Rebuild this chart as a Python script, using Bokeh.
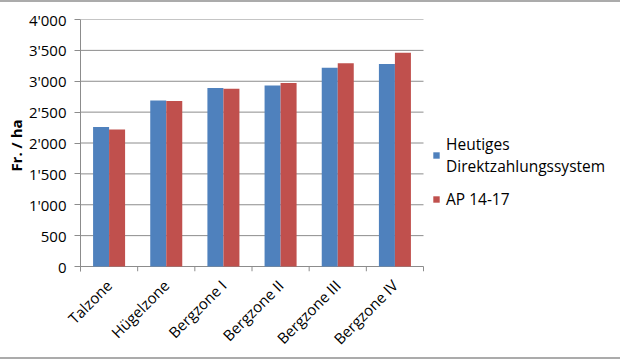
import math
from bokeh.plotting import figure
from bokeh.models import (Range1d, FixedTicker, LinearAxis, Legend, LegendItem,
                          ColumnDataSource)
from bokeh.transform import dodge
from bokeh.embed import file_html
from bokeh.resources import INLINE

categories = ["Talzone", "Hügelzone", "Bergzone I", "Bergzone II", "Bergzone III", "Bergzone IV"]
heutiges = [2260, 2690, 2890, 2930, 3220, 3280]
ap1417 = [2220, 2680, 2880, 2970, 3290, 3460]
series_names = ["Heutiges\nDirektzahlungssystem", "AP 14-17"]
series_colors = ["#4F81BD", "#C0504D"]
y_ticks = [0, 500, 1000, 1500, 2000, 2500, 3000, 3500, 4000]
y_tick_labels = ["0", "500", "1'000", "1'500", "2'000", "2'500", "3'000", "3'500", "4'000"]
y_title = "Fr. / ha"

FONT = "Open Sans"
AXIS_GRAY = "#8c8c8c"
n = len(categories)
centers = [i + 0.5 for i in range(n)]
src = ColumnDataSource(dict(x=centers, cat=categories, a=heutiges, b=ap1417))

# Frame covers the plot area plus the legend area on the right (so the legend
# is not clipped); the category axis occupies the first 343 px of it.
W, H = 620, 359
left, right_border = 80, 0
frame_w = W - left - right_border
plot_w = 343
y_max = y_ticks[-1]
pad = 5 / 247 * y_max  # 5 px below zero for category tick marks

p = figure(width=W, height=H, x_range=Range1d(0, n * frame_w / plot_w),
           y_range=Range1d(-pad, y_max),
           output_backend="svg", toolbar_location=None, x_axis_location=None,
           min_border_left=left, min_border_right=right_border,
           min_border_top=17, min_border_bottom=90)
p.styles = {"border-top": "2px solid #ababab", "border-bottom": "2px solid #ababab"}
p.outline_line_color = None
p.grid.visible = False

# horizontal grid lines spanning only the category area
p.segment(x0=[0] * len(y_ticks), y0=y_ticks, x1=[n] * len(y_ticks), y1=y_ticks,
          line_color=AXIS_GRAY, line_width=1)

bw = 0.28
r1 = p.vbar(x=dodge("x", -bw / 2, range=p.x_range), top="a", width=bw, source=src,
            fill_color=series_colors[0], line_color=None)
r2 = p.vbar(x=dodge("x", bw / 2, range=p.x_range), top="b", width=bw, source=src,
            fill_color=series_colors[1], line_color=None)

# category boundary tick marks below the x axis line
bounds = list(range(n + 1))
p.segment(x0=bounds, y0=[0] * len(bounds), x1=bounds, y1=[-pad] * len(bounds),
          line_color=AXIS_GRAY, line_width=1)

# y axis
ya = p.yaxis[0]
ya.ticker = FixedTicker(ticks=y_ticks)
ya.major_label_overrides = dict(zip(y_ticks, y_tick_labels))
ya.major_label_text_font = FONT
ya.major_label_text_font_size = "15px"
ya.major_label_text_color = "black"
ya.major_label_standoff = 8
ya.axis_line_color = AXIS_GRAY
ya.major_tick_line_color = AXIS_GRAY
ya.major_tick_out = 6
ya.major_tick_in = 0
ya.minor_tick_line_color = None
ya.axis_label = y_title
ya.axis_label_text_font = FONT
ya.axis_label_text_font_style = "bold"
ya.axis_label_text_font_size = "15px"
ya.axis_label_text_color = "black"
ya.axis_label_standoff = 0

# x axis: labels at category centers
xa = LinearAxis(ticker=FixedTicker(ticks=centers))
xa.major_label_overrides = dict(zip(centers, categories))
xa.major_label_orientation = math.pi / 4
xa.major_label_text_font = FONT
xa.major_label_text_font_size = "15px"
xa.major_label_text_color = "black"
xa.major_label_standoff = 5
xa.axis_line_color = None
xa.major_tick_line_color = None
xa.minor_tick_line_color = None
p.add_layout(xa, "below")

legend = Legend(items=[LegendItem(label=series_names[0], renderers=[r1]),
                       LegendItem(label=series_names[1], renderers=[r2])],
                location=(352, 61))
legend.border_line_color = None
legend.background_fill_alpha = 0
legend.margin = 0
legend.padding = 0
legend.glyph_width = 8
legend.glyph_height = 8
legend.label_standoff = 6
legend.spacing = 11
legend.label_text_font = FONT
legend.label_text_font_size = "15.5px"
legend.label_text_line_height = 1.45
legend.label_text_color = "black"
p.add_layout(legend)

open("out.html", "w").write(file_html(p, INLINE))
